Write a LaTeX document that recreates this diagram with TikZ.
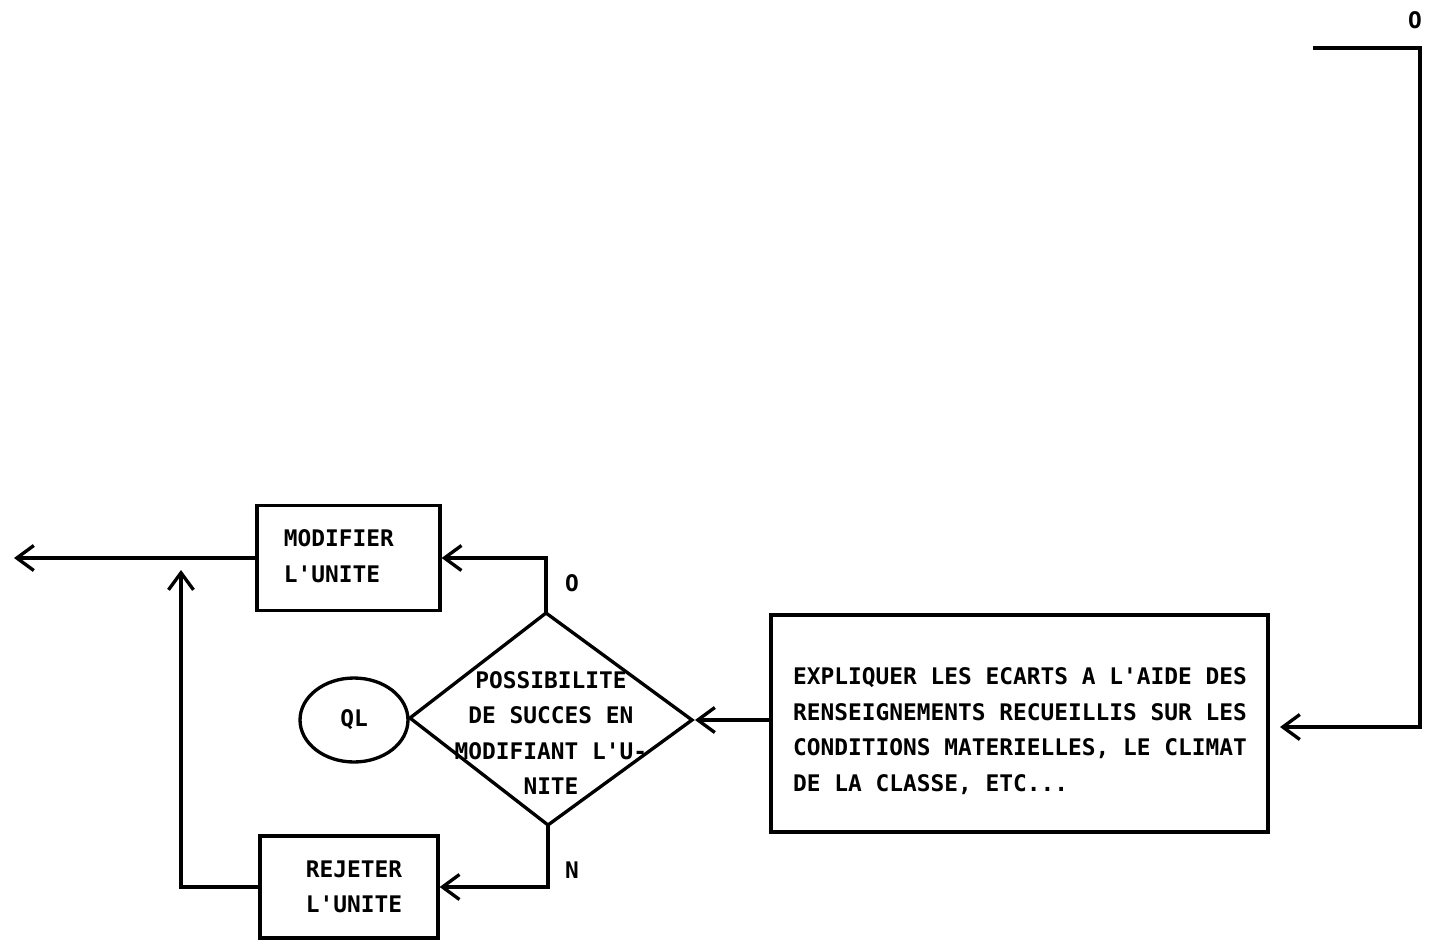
\documentclass[tikz,border=0pt]{standalone}
\usepackage{fontspec}
\setmonofont{DejaVu Sans Mono}
\usetikzlibrary{arrows.meta,shapes.geometric}
\begin{document}
\begin{tikzpicture}[x=0.02cm,y=-0.02cm,
  line width=1.9pt,
  every node/.style={font=\ttfamily\bfseries\fontsize{13}{20.2}\selectfont},
  boxnode/.style={draw,rectangle,inner sep=0pt},
  lbl/.style={inner sep=0pt},
  arr/.style={-{Straight Barb[length=0.34cm,width=0.5cm,line width=1.9pt]}}]
\useasboundingbox (0,0) rectangle (1438,947);
% boxes
\node[boxnode,minimum width=3.66cm,minimum height=2.1cm] (mod) at (348.5,558) {};
\node[lbl,align=left] (modtext) at (339,556) {MODIFIER\\L'UNITE};
\node[boxnode,minimum width=3.56cm,minimum height=2.04cm] (rej) at (349,887) {};
\node[lbl,align=center] (rejtext) at (354,887) {REJETER\\L'UNITE};
\node[boxnode,minimum width=9.94cm,minimum height=4.34cm] (ex) at (1019.5,723.5) {};
\node[lbl,align=left] (extext) at (1020,731)
  {EXPLIQUER LES ECARTS A L'AIDE DES\\RENSEIGNEMENTS RECUEILLIS SUR LES\\CONDITIONS MATERIELLES, LE CLIMAT\\DE LA CLASSE, ETC...};
% diamond
\coordinate (dT) at (546,613);
\coordinate (dR) at (692,720);
\coordinate (dB) at (548,825);
\coordinate (dL) at (410,718);
\draw (dT) -- (dR) -- (dB) -- (dL) -- cycle;
\node[lbl,align=center] (dtext) at (551,733) {POSSIBILITE\\DE SUCCES EN\\MODIFIANT L'U-\\NITE};
% QL ellipse
\node[draw,ellipse,minimum width=2.16cm,minimum height=1.68cm,inner sep=0pt] (ql) at (354,720) {QL};
% labels
\node[lbl] (lo1) at (572,583) {O};
\node[lbl] (ln) at (572,870) {N};
\node[lbl] (lo2) at (1415,20) {O};
% connectors
\coordinate (topstart) at (1313,48);
\coordinate (topcorner) at (1420,48);
\coordinate (rin) at (1280,727);
\draw[arr] (topstart) -- (topcorner) -- (1420,727) -- (rin);
\draw[arr] (ex.west |- dR) -- ([xshift=0.06cm]dR);
\draw[arr] (dT) |- (mod.east);
\draw[arr] (dB) |- (rej.east);
\coordinate (out) at (14,558);
\draw[arr] (mod.west) -- (out);
\coordinate (join) at (181,570);
\draw[arr] (rej.west) -| (join);
\end{tikzpicture}
\end{document}
